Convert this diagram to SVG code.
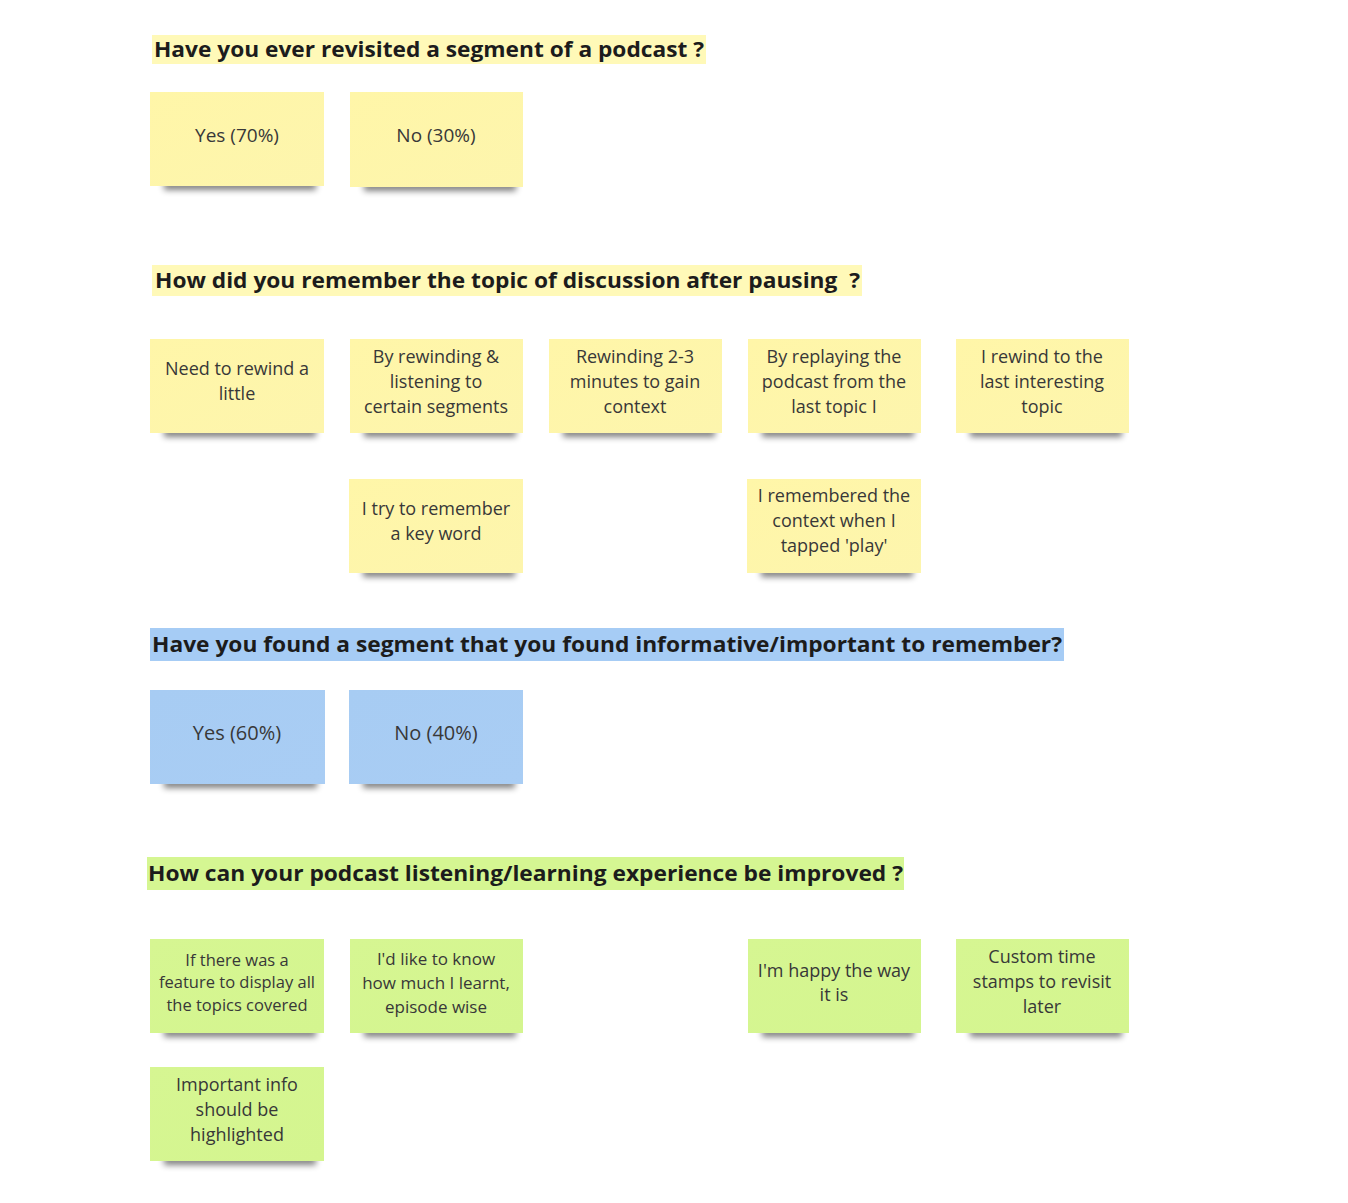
<svg xmlns="http://www.w3.org/2000/svg" width="1348" height="1203" viewBox="0 0 1348 1203">
<defs>
<filter id="sh" x="-20%" y="-100%" width="140%" height="300%"><feGaussianBlur stdDeviation="3"/></filter>
<linearGradient id="gy" x1="0" y1="0" x2="1" y2="1"><stop offset="0" stop-color="#fff6a8"/><stop offset="1" stop-color="#fdf5ad"/></linearGradient>
<linearGradient id="gb" x1="0" y1="0" x2="1" y2="1"><stop offset="0" stop-color="#a7ccf3"/><stop offset="1" stop-color="#a9cdf4"/></linearGradient>
<linearGradient id="gg" x1="0" y1="0" x2="1" y2="1"><stop offset="0" stop-color="#d6f692"/><stop offset="1" stop-color="#d4f58f"/></linearGradient>
</defs>
<style>
.t{font-family:"Open Sans","Noto Sans",sans-serif;font-weight:bold;font-size:22px;fill:#1c1c1c}
.n{font-family:"Open Sans","Noto Sans",sans-serif;font-size:18px;fill:#383838;text-anchor:middle}
.s{font-size:16.5px}
.m{font-size:17px}
.l{font-size:20px}
.k{font-size:19px}
.y{fill:url(#gy)}
.b{fill:url(#gb)}
.g{fill:url(#gg)}
.sh{fill:#000;opacity:0.5;filter:url(#sh)}
</style>
<rect width="1348" height="1203" fill="#fff"/>

<g id="titles">
<g id="title1"><rect x="152" y="35" width="554" height="29" fill="#fff9b8"/><text class="t" x="154" y="57" textLength="550" lengthAdjust="spacingAndGlyphs">Have you ever revisited a segment of a podcast ?</text></g>
<g id="title2"><rect x="152" y="265" width="710" height="31" fill="#fff9b8"/><text class="t" x="155" y="288" textLength="705" lengthAdjust="spacingAndGlyphs">How did you remember the topic of discussion after pausing&#160; ?</text></g>
<g id="title3"><rect x="150" y="628" width="914" height="33" fill="#a6ccf5"/><text class="t" x="152" y="652" textLength="910" lengthAdjust="spacingAndGlyphs">Have you found a segment that you found informative/important to remember?</text></g>
<g id="title4"><rect x="147" y="857" width="757" height="33" fill="#d5f692"/><text class="t" x="148" y="881" textLength="755" lengthAdjust="spacingAndGlyphs">How can your podcast listening/learning experience be improved ?</text></g>
</g>

<g id="connectors"></g>

<g id="n-yes70"><rect class="sh" x="164" y="181" width="152" height="9"/><rect class="y" x="150" y="92" width="174" height="94"/><text class="n k" x="237" y="142">Yes (70%)</text></g>
<g id="n-no30"><rect class="sh" x="364" y="182" width="152" height="9"/><rect class="y" x="350" y="92" width="173" height="95"/><text class="n k" x="436" y="142">No (30%)</text></g>

<g id="n-rewind-little"><rect class="sh" x="164" y="428" width="152" height="9"/><rect class="y" x="150" y="339" width="174" height="94"/><text class="n" x="237" y="375">Need to rewind a</text><text class="n" x="237" y="400">little</text></g>
<g id="n-rewinding-listening"><rect class="sh" x="364" y="428" width="152" height="9"/><rect class="y" x="350" y="339" width="173" height="94"/><text class="n" x="436" y="363">By rewinding &amp;</text><text class="n" x="436" y="388">listening to</text><text class="n" x="436" y="413">certain segments</text></g>
<g id="n-rewinding-23"><rect class="sh" x="563" y="428" width="152" height="9"/><rect class="y" x="549" y="339" width="173" height="94"/><text class="n" x="635" y="363">Rewinding 2-3</text><text class="n" x="635" y="388">minutes to gain</text><text class="n" x="635" y="413">context</text></g>
<g id="n-replaying"><rect class="sh" x="762" y="428" width="152" height="9"/><rect class="y" x="748" y="339" width="173" height="94"/><text class="n" x="834" y="363">By replaying the</text><text class="n" x="834" y="388">podcast from the</text><text class="n" x="834" y="413">last topic I</text></g>
<g id="n-rewind-interesting"><rect class="sh" x="970" y="428" width="152" height="9"/><rect class="y" x="956" y="339" width="173" height="94"/><text class="n" x="1042" y="363">I rewind to the</text><text class="n" x="1042" y="388">last interesting</text><text class="n" x="1042" y="413">topic</text></g>
<g id="n-key-word"><rect class="sh" x="363" y="568" width="152" height="9"/><rect class="y" x="349" y="479" width="174" height="94"/><text class="n" x="436" y="515">I try to remember</text><text class="n" x="436" y="540">a key word</text></g>
<g id="n-remembered"><rect class="sh" x="761" y="568" width="152" height="9"/><rect class="y" x="747" y="479" width="174" height="94"/><text class="n" x="834" y="502">I remembered the</text><text class="n" x="834" y="527">context when I</text><text class="n" x="834" y="552">tapped 'play'</text></g>

<g id="n-yes60"><rect class="sh" x="164" y="779" width="153" height="9"/><rect class="b" x="150" y="690" width="175" height="94"/><text class="n l" x="237" y="740">Yes (60%)</text></g>
<g id="n-no40"><rect class="sh" x="363" y="779" width="152" height="9"/><rect class="b" x="349" y="690" width="174" height="94"/><text class="n l" x="436" y="740">No (40%)</text></g>

<g id="n-display-topics"><rect class="sh" x="164" y="1028" width="152" height="9"/><rect class="g" x="150" y="939" width="174" height="94"/><text class="n s" x="237" y="966">If there was a</text><text class="n s" x="237" y="988">feature to display all</text><text class="n s" x="237" y="1011">the topics covered</text></g>
<g id="n-how-much"><rect class="sh" x="364" y="1028" width="152" height="9"/><rect class="g" x="350" y="939" width="173" height="94"/><text class="n m" x="436" y="965">I'd like to know</text><text class="n m" x="436" y="989">how much I learnt,</text><text class="n m" x="436" y="1013">episode wise</text></g>
<g id="n-happy"><rect class="sh" x="762" y="1028" width="152" height="9"/><rect class="g" x="748" y="939" width="173" height="94"/><text class="n" x="834" y="977">I'm happy the way</text><text class="n" x="834" y="1001">it is</text></g>
<g id="n-timestamps"><rect class="sh" x="970" y="1028" width="152" height="9"/><rect class="g" x="956" y="939" width="173" height="94"/><text class="n" x="1042" y="963">Custom time</text><text class="n" x="1042" y="988">stamps to revisit</text><text class="n" x="1042" y="1013">later</text></g>
<g id="n-highlighted"><rect class="sh" x="164" y="1156" width="152" height="9"/><rect class="g" x="150" y="1067" width="174" height="94"/><text class="n" x="237" y="1091">Important info</text><text class="n" x="237" y="1116">should be</text><text class="n" x="237" y="1141">highlighted</text></g>
</svg>
